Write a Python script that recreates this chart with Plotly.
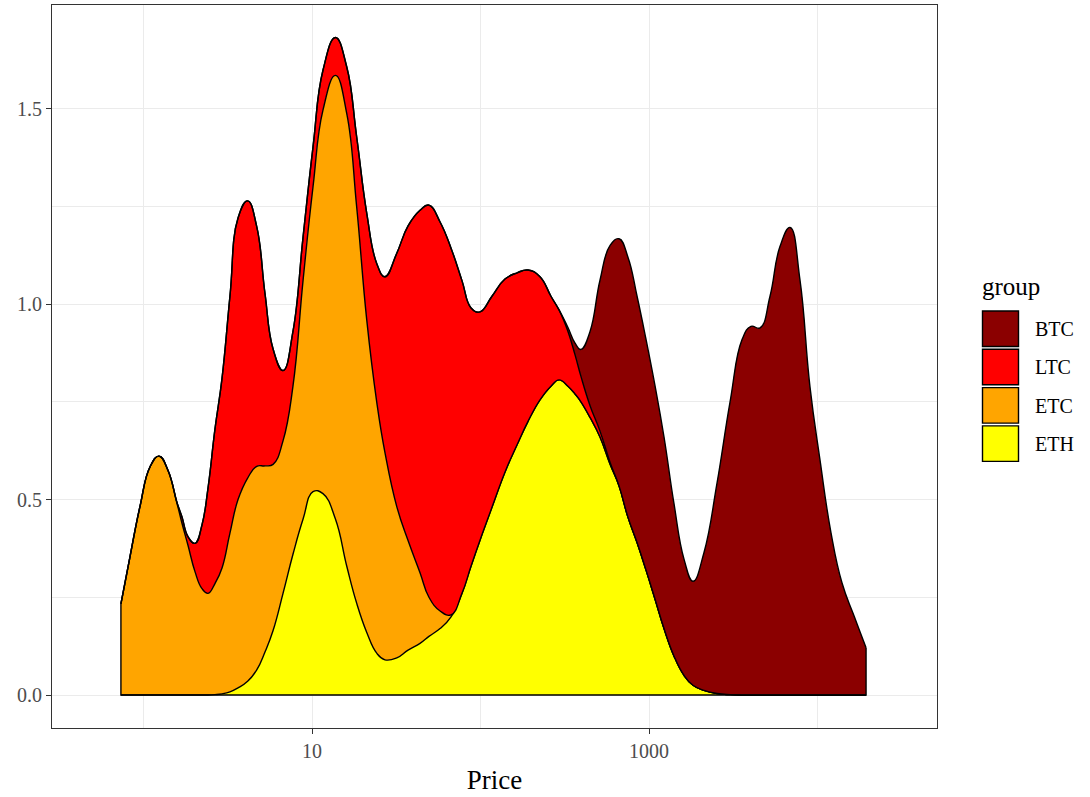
import plotly.graph_objects as go

# ---- data ----
log10_price = [
    -0.134, -0.080, -0.021, 0.039, 0.092, 0.145, 0.199, 0.228, 0.264, 0.306,
    0.347, 0.383, 0.424, 0.466, 0.513, 0.561, 0.618, 0.672, 0.721, 0.769,
    0.828, 0.887, 0.947, 1.006, 1.065, 1.139, 1.206, 1.265, 1.325, 1.384,
    1.433, 1.503, 1.570, 1.641, 1.694, 1.760, 1.825, 1.890, 1.944, 1.997,
    2.068, 2.145, 2.217, 2.282, 2.353, 2.418, 2.466, 2.519, 2.561, 2.596,
    2.650, 2.709, 2.769, 2.822, 2.875, 2.929, 2.982, 3.036, 3.089, 3.148,
    3.208, 3.261, 3.326, 3.404, 3.481, 3.552, 3.605, 3.659, 3.718, 3.777,
    3.837, 3.896, 3.955, 4.015, 4.080, 4.145, 4.217, 4.288,
]

eth = [
    0, 0, 0, 0, 0, 0, 0, 0, 0, 0,
    0, 0, 0.001, 0.003, 0.008, 0.018, 0.035, 0.064, 0.110, 0.165,
    0.260, 0.360, 0.450, 0.520, 0.515, 0.450, 0.330, 0.235, 0.160, 0.107,
    0.090, 0.095, 0.115, 0.132, 0.150, 0.170, 0.200, 0.260, 0.330, 0.396,
    0.480, 0.570, 0.640, 0.700, 0.755, 0.790, 0.806, 0.790, 0.770, 0.750,
    0.710, 0.660, 0.590, 0.535, 0.455, 0.390, 0.320, 0.245, 0.170, 0.100,
    0.050, 0.025, 0.012, 0.004, 0.001, 0, 0, 0, 0, 0,
    0, 0, 0, 0, 0, 0, 0, 0,
]

etc = [
    0.233, 0.354, 0.482, 0.584, 0.611, 0.575, 0.490, 0.440, 0.383, 0.315,
    0.272, 0.260, 0.284, 0.322, 0.406, 0.482, 0.520, 0.521, 0.476, 0.425,
    0.390, 0.430, 0.611, 0.780, 0.981, 1.135, 1.158, 1.014, 0.799, 0.643,
    0.530, 0.387, 0.280, 0.181, 0.100, 0.045, 0.005, 0, 0, 0,
    0, 0, 0, 0, 0, 0, 0, 0, 0, 0,
    0, 0, 0, 0, 0, 0, 0, 0, 0, 0,
    0, 0, 0, 0, 0, 0, 0, 0, 0, 0,
    0, 0, 0, 0, 0, 0, 0, 0,
]

ltc = [
    0, 0, 0, 0, 0, 0, 0.002, 0.016, 0.022, 0.073,
    0.163, 0.270, 0.395, 0.485, 0.606, 0.720, 0.709, 0.613, 0.441, 0.295,
    0.180, 0.140, 0.111, 0.102, 0.102, 0.097, 0.119, 0.179, 0.273, 0.354,
    0.450, 0.648, 0.805, 0.927, 1.003, 0.995, 0.938, 0.800, 0.660, 0.584,
    0.540, 0.494, 0.440, 0.387, 0.315, 0.230, 0.179, 0.140, 0.100, 0.065,
    0.030, 0.015, 0.005, 0, 0, 0, 0, 0, 0, 0,
    0, 0, 0, 0, 0, 0, 0, 0, 0, 0,
    0, 0, 0, 0, 0, 0, 0, 0,
]

btc = [
    0, 0, 0, 0, 0, 0, 0, 0, 0, 0,
    0, 0, 0, 0, 0, 0, 0, 0, 0, 0,
    0, 0, 0, 0, 0, 0, 0, 0, 0, 0,
    0, 0, 0, 0, 0, 0, 0, 0, 0, 0,
    0, 0, 0, 0, 0, 0, 0, 0.010, 0.030, 0.069,
    0.190, 0.386, 0.555, 0.632, 0.665, 0.630, 0.590, 0.545, 0.490, 0.390,
    0.297, 0.266, 0.352, 0.539, 0.749, 0.909, 0.943, 0.939, 1.020, 1.147,
    1.196, 1.061, 0.789, 0.600, 0.415, 0.287, 0.202, 0.121,
]

stack_order = ["ETH", "ETC", "LTC", "BTC"]       # bottom to top
legend_order = ["BTC", "LTC", "ETC", "ETH"]
series = {"ETH": eth, "ETC": etc, "LTC": ltc, "BTC": btc}
colors = {"BTC": "#8B0000", "LTC": "#FF0000", "ETC": "#FFA500", "ETH": "#FFFF00"}

x_tick_vals = [10, 1000]
x_minor_vals = [1, 100, 10000]
y_tick_vals = [0.0, 0.5, 1.0, 1.5]
y_minor_vals = [0.25, 0.75, 1.25]

FONT = "Liberation Serif"
price = [10 ** v for v in log10_price]

fig = go.Figure()
for g in stack_order:
    fig.add_trace(go.Scatter(
        x=price, y=series[g], name=g, stackgroup="dens", mode="lines",
        line=dict(color="black", width=1.4, shape="spline", smoothing=1.3),
        fillcolor=colors[g], showlegend=False, hoverinfo="skip",
    ))

# closing outline (vertical ends + baseline) derived from the data
total = [sum(v) for v in zip(eth, etc, ltc, btc)]
fig.add_trace(go.Scatter(
    x=[price[-1], price[-1], price[0], price[0]],
    y=[total[-1], 0, 0, total[0]],
    mode="lines", line=dict(color="black", width=1.4),
    showlegend=False, hoverinfo="skip",
))

# ---- layout ----
W, H = 1090, 797
L_M, R_M, T_M, B_M = 52, 153, 5, 69
pw = W - L_M - R_M
ph = H - T_M - B_M


def xp(px):
    return (px - L_M) / pw


def yp(py):
    return (H - B_M - py) / ph


fig.update_layout(
    width=W, height=H,
    margin=dict(l=L_M, r=R_M, t=T_M, b=B_M),
    paper_bgcolor="white", plot_bgcolor="white",
    font=dict(family=FONT, color="black"),
    showlegend=False,
)

fig.update_xaxes(
    type="log", range=[-0.543, 4.709],
    tickmode="array", tickvals=x_tick_vals, ticktext=[str(v) for v in x_tick_vals],
    ticks="outside", ticklen=5, tickcolor="#333333", tickwidth=1,
    tickfont=dict(family=FONT, size=20, color="#4D4D4D"),
    showgrid=True, gridcolor="#EBEBEB", gridwidth=1,
    minor=dict(tickmode="array", tickvals=x_minor_vals, showgrid=True,
               gridcolor="#EBEBEB", gridwidth=0.6, ticklen=0),
    showline=True, mirror=True, linecolor="#333333", linewidth=1,
    zeroline=False,
    title=dict(text="Price", font=dict(family=FONT, size=27, color="black"), standoff=9),
)

fig.update_yaxes(
    range=[-0.0844, 1.765],
    tickmode="array", tickvals=y_tick_vals, ticktext=[f"{v:.1f}" for v in y_tick_vals],
    ticks="outside", ticklen=5, tickcolor="#333333", tickwidth=1,
    tickfont=dict(family=FONT, size=20, color="#4D4D4D"),
    showgrid=True, gridcolor="#EBEBEB", gridwidth=1,
    minor=dict(tickmode="array", tickvals=y_minor_vals, showgrid=True,
               gridcolor="#EBEBEB", gridwidth=0.6, ticklen=0),
    showline=True, mirror=True, linecolor="#333333", linewidth=1,
    zeroline=False,
)

# ---- legend (ggplot style keys) ----
fig.add_annotation(
    x=xp(980), y=yp(287), xref="paper", yref="paper", text="group",
    showarrow=False, xanchor="left", yanchor="middle",
    font=dict(family=FONT, size=25, color="black"),
)
for i, g in enumerate(legend_order):
    top = 311 + i * 38.3
    fig.add_shape(
        type="rect", xref="paper", yref="paper",
        x0=xp(982.5), x1=xp(1018.5), y0=yp(top), y1=yp(top + 35.5),
        fillcolor=colors[g], line=dict(color="black", width=1.4),
    )
    fig.add_annotation(
        x=xp(1033), y=yp(top + 18), xref="paper", yref="paper", text=g,
        showarrow=False, xanchor="left", yanchor="middle",
        font=dict(family=FONT, size=20, color="black"),
    )

fig.write_html("out.html", config={"displayModeBar": False},
               post_script="document.body.style.margin='0px';")
